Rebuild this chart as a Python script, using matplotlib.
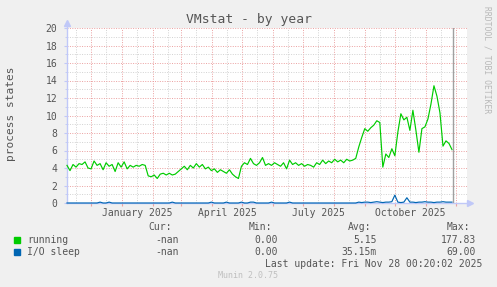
import numpy as np
import pandas as pd
import matplotlib
matplotlib.use("Agg")
import matplotlib.pyplot as plt
import matplotlib.dates as mdates
from matplotlib.patches import Rectangle
from matplotlib.transforms import blended_transform_factory

# running processes, read every ~3 days from Nov 7 2024 to Nov 27 2025
running = [
    4.3, 3.7, 4.4, 4.1, 4.5, 4.4, 4.7, 4.0, 3.9, 4.8,
    4.3, 4.5, 3.8, 4.6, 4.2, 4.4, 3.6, 4.6, 4.1, 4.7,
    3.9, 4.3, 4.1, 4.3, 4.2, 4.4, 4.3, 3.1, 3.0, 3.2,
    2.8, 3.3, 3.4, 3.2, 3.4, 3.2, 3.3, 3.6, 3.9, 4.2,
    3.8, 4.3, 4.0, 4.5, 4.1, 4.4, 3.9, 4.1, 3.7, 3.9,
    3.5, 3.8, 3.6, 3.4, 3.8, 3.3, 3.0, 2.8, 4.2, 4.6,
    4.4, 5.1, 4.5, 4.3, 4.6, 5.2, 4.3, 4.5, 4.3, 4.6,
    4.4, 4.2, 4.6, 3.9, 4.9, 4.4, 4.6, 4.3, 4.5, 4.2,
    4.4, 4.3, 4.1, 4.6, 4.4, 4.9, 4.5, 4.8, 4.6, 5.0,
    4.7, 4.9, 4.6, 5.0, 4.8, 4.9, 5.1, 6.4, 7.5, 8.5,
    8.2, 8.6, 8.9, 9.4, 9.2, 4.1, 5.6, 5.2, 6.2, 5.4,
    8.1, 10.2, 9.5, 9.8, 8.3, 10.6, 8.3, 5.8, 8.5, 8.7,
    9.6, 11.3, 13.4, 12.2, 10.3, 6.5, 7.1, 6.8, 6.1,
]
io_sleep = [
    0, 0, 0, 0, 0, 0, 0, 0, 0, 0,
    0, 0.1, 0, 0, 0.1, 0, 0, 0, 0, 0,
    0, 0, 0, 0, 0, 0, 0, 0, 0, 0,
    0, 0, 0, 0, 0, 0.1, 0, 0, 0, 0,
    0, 0, 0, 0, 0, 0, 0, 0, 0.1, 0,
    0, 0, 0, 0.1, 0, 0, 0, 0, 0.1, 0,
    0, 0.1, 0.1, 0, 0, 0, 0, 0, 0.1, 0,
    0, 0, 0, 0, 0.1, 0, 0, 0, 0, 0,
    0, 0, 0, 0, 0, 0, 0, 0, 0, 0,
    0, 0, 0, 0, 0, 0, 0, 0.1, 0.05, 0.1,
    0.1, 0.05, 0.1, 0.15, 0.1, 0.05, 0.1, 0.1, 0.15, 0.9,
    0.1, 0.05, 0.1, 0.6, 0.1, 0.1, 0.05, 0.1, 0.1, 0.15,
    0.1, 0.1, 0.05, 0.1, 0.1, 0.15, 0.1, 0.1, 0.1,
]
dates = pd.date_range("2024-11-07", "2025-11-27", periods=len(running))
last_update = pd.Timestamp("2025-11-28")

quarter_labels = ["January 2025", "April 2025", "July 2025", "October 2025"]
quarter_mid = ["2025-01-16", "2025-04-16", "2025-07-16", "2025-10-16"]

series_names = ["running", "I/O sleep"]
series_colors = ["#00cc00", "#0066b3"]
cur_vals = ["-nan", "-nan"]
min_vals = ["0.00", "0.00"]
avg_vals = ["5.15", "35.15m"]
max_vals = ["177.83", "69.00"]

W, H = 497, 287
BG = "#f0f0f0"
TXT = "#555555"
plt.rcParams["font.family"] = "DejaVu Sans Mono"

def fx(px):
    return px / W

def fy(py):
    return 1 - py / H

fig = plt.figure(figsize=(W / 100, H / 100), dpi=100, facecolor=BG)
ax = fig.add_axes([fx(67), fy(203), fx(467) - fx(67), fy(28) - fy(203)])
ax.set_facecolor("white")

ax.plot(dates, running, color=series_colors[0], lw=0.85, clip_on=False, zorder=3)
ax.plot(dates, io_sleep, color=series_colors[1], lw=0.85, clip_on=False, zorder=3)
ax.axvline(last_update, color="#a0a0a0", lw=1.0, zorder=4)

ax.set_xlim(pd.Timestamp("2024-11-07"), pd.Timestamp("2025-12-12"))
ax.set_ylim(0, 20)

# grid: red dotted at month starts / even values, gray dotted in between
ax.xaxis.set_major_locator(mdates.MonthLocator())
ax.xaxis.set_minor_locator(mdates.MonthLocator(bymonthday=16))
ax.xaxis.set_major_formatter(plt.NullFormatter())
ax.set_yticks(np.arange(0, 21, 2))
ax.set_yticks(np.arange(1, 20, 2), minor=True)
ax.grid(which="major", color="#eba0a0", ls=(0, (1, 1.5)), lw=0.7)
ax.grid(which="minor", color="#d2d2d2", ls=(0, (1, 1.5)), lw=0.7)
ax.set_axisbelow(True)

for s in ax.spines.values():
    s.set_visible(False)
ax.tick_params(axis="y", which="major", length=2, color="#c0c8f8", pad=5,
               labelsize=7, labelcolor=TXT)
ax.tick_params(axis="y", which="minor", length=1.5, color="#c0c8f8")
ax.tick_params(axis="x", which="major", length=2, color="#eba0a0", pad=2)
ax.tick_params(axis="x", which="minor", length=0)

lab_tr = blended_transform_factory(ax.transData, fig.transFigure)
for lab, mid in zip(quarter_labels, quarter_mid):
    ax.text(pd.Timestamp(mid), fy(213), lab, ha="center", va="center",
            fontsize=7, color=TXT, transform=lab_tr)

# axis lines with arrows
axc = "#c0c8f8"
ax.plot([0, 0], [0, 1.03], color=axc, lw=1, transform=ax.transAxes, clip_on=False)
ax.plot([0, 1.005], [0, 0], color=axc, lw=1, transform=ax.transAxes, clip_on=False)
ax.plot([0], [1.03], marker="^", ms=4, color=axc, transform=ax.transAxes, clip_on=False)
ax.plot([1.008], [0], marker=">", ms=4, color=axc, transform=ax.transAxes, clip_on=False)

fig.text(0.5, fy(19), "VMstat - by year", ha="center", va="center",
         fontsize=9.4, color=TXT)
fig.text(fx(11), fy(114), "process states", rotation=90, ha="center",
         va="center", fontsize=8, color=TXT)
fig.text(fx(487), fy(60), "RRDTOOL / TOBI OETIKER", rotation=270, ha="center",
         va="center", fontsize=5.8, color="#b8b8b8")

# legend table
fs = 7
col_right = [172, 272, 371, 470]
for x, h in zip(col_right, ["Cur:", "Min:", "Avg:", "Max:"]):
    fig.text(fx(x), fy(227), h, ha="right", va="center", fontsize=fs, color=TXT)
val_right = [179, 278, 377, 476]
for i, name in enumerate(series_names):
    yy = 240 + i * 12
    fig.patches.append(Rectangle((fx(14), fy(yy + 3)), fx(6), 6 / H,
                                 transform=fig.transFigure, color=series_colors[i]))
    fig.text(fx(27), fy(yy), name, ha="left", va="center", fontsize=fs, color=TXT)
    for x, v in zip(val_right, [cur_vals[i], min_vals[i], avg_vals[i], max_vals[i]]):
        fig.text(fx(x), fy(yy), v, ha="right", va="center", fontsize=fs, color=TXT)

fig.text(fx(482), fy(264), "Last update: Fri Nov 28 00:20:02 2025", ha="right",
         va="center", fontsize=fs, color=TXT)
fig.text(fx(248), fy(276), "Munin 2.0.75", ha="center", va="center",
         fontsize=6, color="#c0c0c0")

fig.savefig("out.png", dpi=100, facecolor=BG)
